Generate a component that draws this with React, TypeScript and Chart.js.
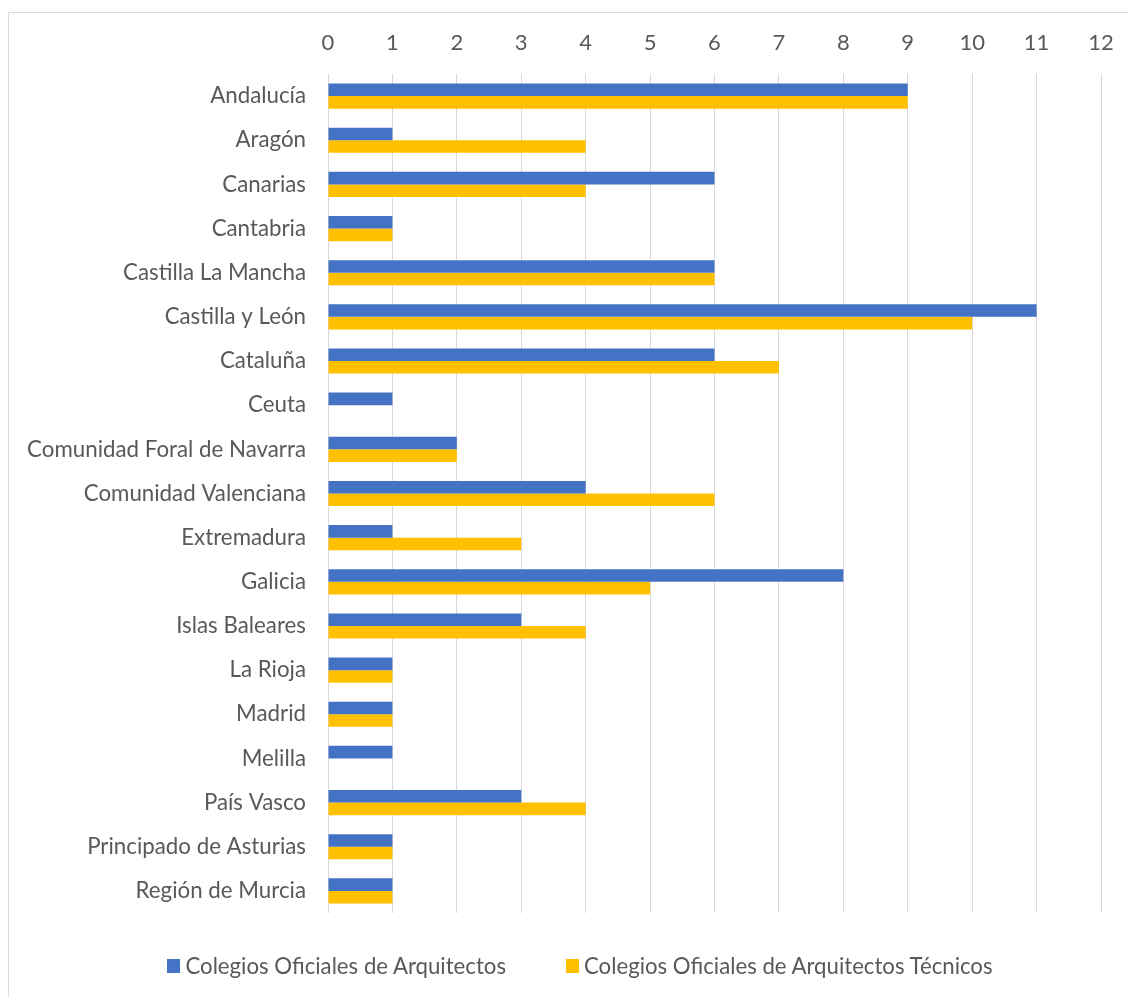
import React, { useEffect, useRef } from "react";
import { Chart, registerables } from "chart.js";

Chart.register(...registerables);

const categories = [
  "Andalucía",
  "Aragón",
  "Canarias",
  "Cantabria",
  "Castilla La Mancha",
  "Castilla y León",
  "Cataluña",
  "Ceuta",
  "Comunidad Foral de Navarra",
  "Comunidad Valenciana",
  "Extremadura",
  "Galicia",
  "Islas Baleares",
  "La Rioja",
  "Madrid",
  "Melilla",
  "País Vasco",
  "Principado de Asturias",
  "Región de Murcia",
];

const arquitectos = [9, 1, 6, 1, 6, 11, 6, 1, 2, 4, 1, 8, 3, 1, 1, 1, 3, 1, 1];
const tecnicos = [9, 4, 4, 1, 6, 10, 7, 0, 2, 6, 3, 5, 4, 1, 1, 0, 4, 1, 1];

const seriesNames = [
  "Colegios Oficiales de Arquitectos",
  "Colegios Oficiales de Arquitectos Técnicos",
];
const seriesColors = ["#4472C4", "#FFC000"];

const FONT = "Lato, 'Open Sans', sans-serif";
const TEXT = "#595959";

export default function App() {
  const ref = useRef<HTMLCanvasElement | null>(null);

  useEffect(() => {
    if (!ref.current) return;
    const chart = new Chart(ref.current, {
      type: "bar",
      data: {
        labels: categories,
        datasets: [
          {
            label: seriesNames[0],
            data: arquitectos,
            backgroundColor: seriesColors[0],
            borderWidth: 0,
          },
          {
            label: seriesNames[1],
            data: tecnicos,
            backgroundColor: seriesColors[1],
            borderWidth: 0,
          },
        ],
      },
      options: {
        indexAxis: "y",
        animation: false,
        responsive: false,
        maintainAspectRatio: false,
        datasets: {
          bar: { categoryPercentage: 0.57, barPercentage: 1 },
        },
        layout: {
          autoPadding: false,
          padding: { left: 0, right: 27, top: 0, bottom: 84 },
        },
        plugins: {
          legend: { display: false },
          tooltip: { enabled: false },
        },
        scales: {
          x: {
            position: "top",
            min: 0,
            max: 12,
            ticks: {
              stepSize: 1,
              color: TEXT,
              font: { family: FONT, size: 22 },
              padding: 18,
            },
            grid: {
              color: "#d9d9d9",
              lineWidth: 1,
              drawTicks: false,
            },
            border: { display: false },
            afterFit: (scale: any) => {
              scale.height = 74;
              scale.paddingLeft = 0;
              scale.paddingRight = 0;
            },
          },
          y: {
            ticks: {
              color: TEXT,
              font: { family: FONT, size: 22.3 },
              padding: 22,
            },
            grid: { display: false, drawTicks: false },
            border: { display: false },
            afterFit: (scale: any) => {
              scale.width = 328;
            },
          },
        },
      },
    });
    return () => chart.destroy();
  }, []);

  return (
    <div
      style={{
        position: "absolute",
        left: 0,
        top: 0,
        width: 1128,
        height: 997,
        overflow: "hidden",
        background: "#fff",
      }}
    >
      <div
        style={{
          position: "absolute",
          left: 8,
          top: 12,
          width: 1200,
          height: 1100,
          border: "1px solid #d9d9d9",
          boxSizing: "border-box",
        }}
      />
      <canvas
        ref={ref}
        width={1128}
        height={997}
        style={{ position: "absolute", left: 0, top: 0, width: 1128, height: 997 }}
      />
      <div
        style={{
          position: "absolute",
          left: 16,
          top: 951,
          width: 1128,
          display: "flex",
          justifyContent: "center",
          fontFamily: FONT,
          fontSize: 22.2,
          color: TEXT,
          lineHeight: "30px",
        }}
      >
        {seriesNames.map((name, i) => (
          <div
            key={name}
            style={{
              display: "flex",
              alignItems: "center",
              marginLeft: i === 0 ? 0 : 60,
            }}
          >
            <span
              style={{
                display: "inline-block",
                width: 13,
                height: 14,
                background: seriesColors[i],
                marginRight: 5,
              }}
            />
            <span>{name}</span>
          </div>
        ))}
      </div>
    </div>
  );
}
